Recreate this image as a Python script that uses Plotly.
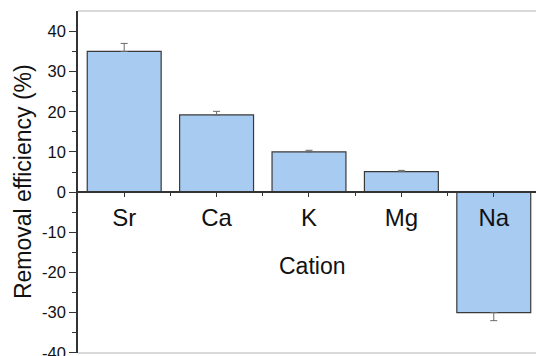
import plotly.graph_objects as go

cations = ["Sr", "Ca", "K", "Mg", "Na"]
efficiency = [35.0, 19.2, 10.0, 5.1, -30.0]
error_up = [2.0, 0.9, 0.4, 0.3, 0.0]
error_down = [0.0, 0.0, 0.0, 0.0, 2.0]
y_ticks = [-40, -30, -20, -10, 0, 10, 20, 30, 40]
y_minor = [-35, -25, -15, -5, 5, 15, 25, 35]

x_pos = list(range(len(cations)))
FONT = "Liberation Sans, Arial, sans-serif"

fig = go.Figure()
fig.add_trace(go.Bar(
    x=x_pos, y=efficiency, width=0.8,
    marker=dict(color="#A8CBF1", line=dict(color="#3a3a3a", width=1.2)),
    error_y=dict(type="data", array=error_up, arrayminus=error_down,
                 symmetric=False, color="#6a6a6a", thickness=1, width=3.5),
))

y_lo, y_hi = -40.05, 45.07
fig.update_layout(
    width=536, height=356,
    margin=dict(l=78, r=0, t=11, b=3, autoexpand=False),
    paper_bgcolor="white", plot_bgcolor="white",
    showlegend=False,
    font=dict(family=FONT, color="#111111"),
    xaxis=dict(
        range=[-0.5, 4.457], anchor="free", position=(0 - y_lo) / (y_hi - y_lo),
        automargin=False,
        tickmode="array", tickvals=x_pos, ticktext=cations,
        tickfont=dict(size=24, family=FONT, color="#111"),
        ticks="outside", ticklen=4, tickwidth=1.2, tickcolor="#333",
        minor=dict(tickvals=[0.5, 1.5, 2.5, 3.5], ticks="outside", ticklen=3,
                   tickwidth=1.2, tickcolor="#333"),
        showline=True, linecolor="#333", linewidth=1.5,
        showgrid=False, zeroline=False,
    ),
    yaxis=dict(
        range=[y_lo, y_hi], automargin=False,
        tickmode="array", tickvals=y_ticks, ticktext=[str(v) for v in y_ticks],
        tickfont=dict(size=16.5, family=FONT, color="#111"),
        ticklabeloverflow="allow",
        ticks="outside", ticklen=7, tickwidth=1.2, tickcolor="#333",
        minor=dict(tickvals=y_minor, ticks="outside", ticklen=4,
                   tickwidth=1.2, tickcolor="#333"),
        showline=True, linecolor="#333", linewidth=1.5,
        showgrid=False, zeroline=False,
    ),
    shapes=[
        dict(type="line", xref="paper", yref="paper", x0=0, x1=1, y0=1, y1=1,
             line=dict(color="#b5b5b5", width=1.2)),
        dict(type="line", xref="paper", yref="paper", x0=0, x1=1, y0=0, y1=0,
             line=dict(color="#b5b5b5", width=1.2)),
    ],
    annotations=[
        dict(text="Cation", xref="paper", yref="paper", x=0.511, y=0.254,
             xanchor="center", yanchor="middle",
             showarrow=False, font=dict(size=23, family=FONT, color="#111")),
        dict(text="Removal efficiency (%)", xref="paper", yref="paper",
             x=-0.12, y=0.5, xanchor="center", yanchor="middle",
             textangle=-90, showarrow=False,
             font=dict(size=23, family=FONT, color="#111")),
    ],
)

fig.write_html("out.html")
